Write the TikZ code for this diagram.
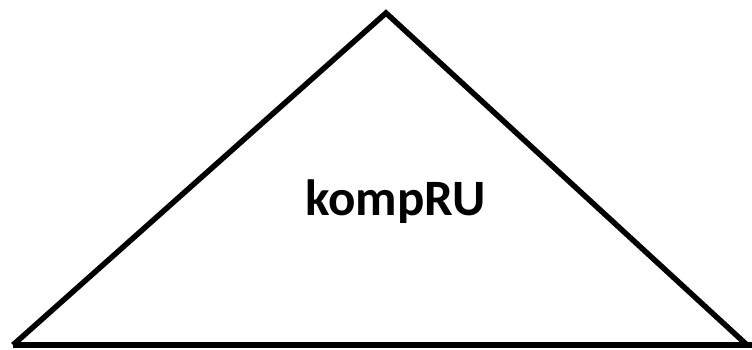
\documentclass[tikz,border=0pt]{standalone}
\usepackage{fontspec}
\setmainfont{Carlito}
\tikzset{edge/.style={line width=5.5pt, line join=miter}}
\begin{document}
\begin{tikzpicture}[x=1pt,y=1pt]
\useasboundingbox (0,0) rectangle (752,349);
\coordinate (top) at (386,336);
\coordinate (bl) at (13,4);
\coordinate (br) at (747,4);
\coordinate (be) at (752,4);
\draw[edge] (bl) -- (top) -- (br);
\draw[edge] (bl) -- (be);
\node[anchor=base west, inner sep=0pt, font=\fontsize{51}{60}\selectfont\bfseries] (lab) at (305,134) {kompRU};
\end{tikzpicture}
\end{document}
